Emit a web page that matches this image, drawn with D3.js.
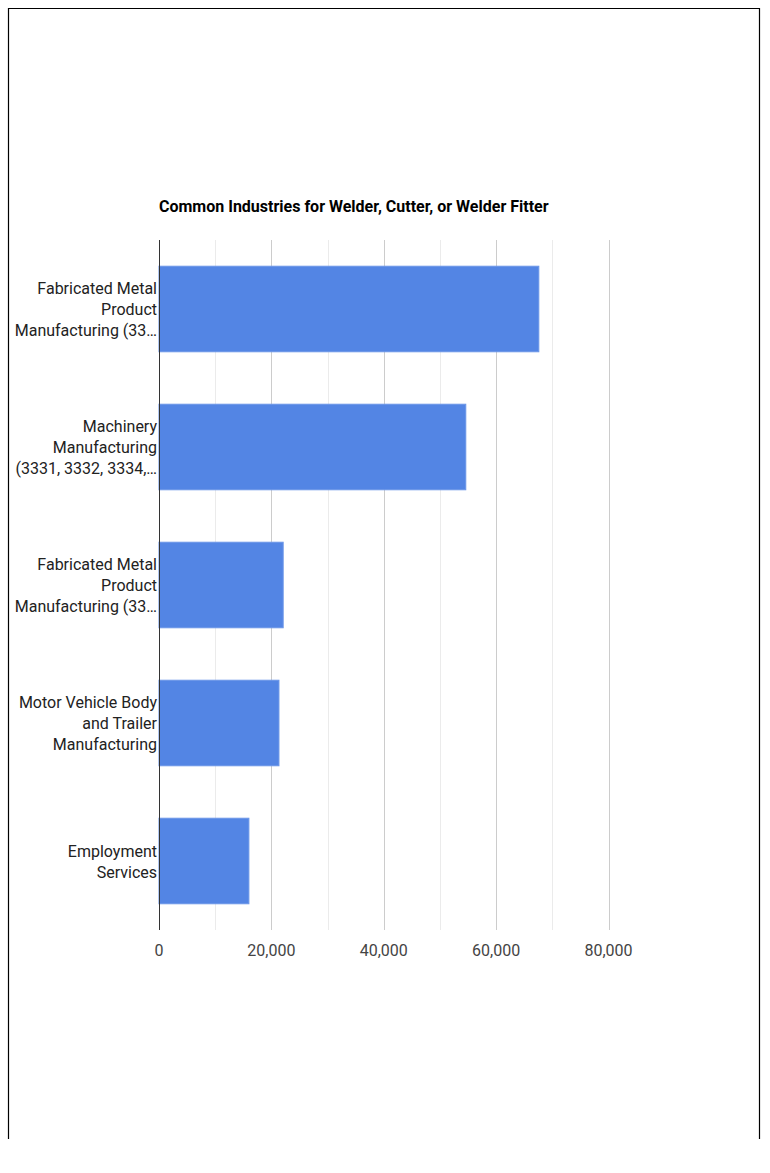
<!DOCTYPE html>
<html><head><meta charset="utf-8">
<script src="https://cdn.jsdelivr.net/npm/d3@7"></script>
<style>body{margin:0;background:#fff}svg{display:block}</style>
</head><body>
<svg id="c" width="770" height="1173"></svg>
<script>
const categories = [
  ["Fabricated Metal", "Product", "Manufacturing (33\u2026"],
  ["Machinery", "Manufacturing", "(3331, 3332, 3334,\u2026"],
  ["Fabricated Metal", "Product", "Manufacturing (33\u2026"],
  ["Motor Vehicle Body", "and Trailer", "Manufacturing"],
  ["Employment", "Services"]
];
const values = [67600, 54600, 22100, 21350, 16000];
const majorTicks = [0, 20000, 40000, 60000, 80000];
const minorTicks = [10000, 30000, 50000, 70000];
const title = "Common Industries for Welder, Cutter, or Welder Fitter";

(function(){
const svg = d3.select("#c");
svg.append("path").attr("d","M8.5,1139 V8.5 H759.5 V1139")
  .attr("fill","none").attr("stroke","#000").attr("stroke-width",1.2);

const pL = 159, pR = 608.5, pT = 240, pB = 930;
const x = d3.scaleLinear().domain([0, 80000]).range([pL, pR]);
const y = d3.scaleBand().domain(d3.range(values.length)).range([pT, pB]).paddingInner(0.38).paddingOuter(0.19);

svg.append("text").attr("x", pL).attr("y", 212)
  .attr("font-family","Roboto").attr("font-weight","bold").attr("font-size",16)
  .attr("fill","#000").text(title);

svg.append("g").selectAll("line").data(minorTicks).join("line")
  .attr("x1", d=>Math.round(x(d))+0.5).attr("x2", d=>Math.round(x(d))+0.5)
  .attr("y1", pT).attr("y2", pB).attr("stroke","#ebebeb");
svg.append("g").selectAll("line").data(majorTicks.slice(1)).join("line")
  .attr("x1", d=>Math.round(x(d))+0.5).attr("x2", d=>Math.round(x(d))+0.5)
  .attr("y1", pT).attr("y2", pB).attr("stroke","#cccccc");

svg.append("g").selectAll("rect").data(values).join("rect")
  .attr("x", x(0)).attr("y", (d,i)=>y(i))
  .attr("width", d=>x(d)-x(0)).attr("height", y.bandwidth())
  .attr("fill","#5385e4").attr("stroke","#6b96e8").attr("stroke-width",1);

svg.append("line").attr("x1", pL+0.5).attr("x2", pL+0.5)
  .attr("y1", pT).attr("y2", pB).attr("stroke","#333");

svg.append("g").selectAll("text").data(majorTicks).join("text")
  .attr("x", d=>x(d)).attr("y", 956).attr("text-anchor","middle")
  .attr("font-family","Roboto").attr("font-size",16).attr("fill","#444")
  .text(d=>d3.format(",")(d));

const lh = 21;
const lg = svg.append("g");
categories.forEach((lines, i) => {
  const cy = y(i) + y.bandwidth()/2;
  const t = lg.append("text").attr("text-anchor","end")
    .attr("font-family","Roboto").attr("font-size",16).attr("fill","#222");
  lines.forEach((s, j) => {
    t.append("tspan").attr("x", 157)
      .attr("y", cy + (j - (lines.length-1)/2)*lh + 6).text(s);
  });
});
})();
</script>
</body></html>
